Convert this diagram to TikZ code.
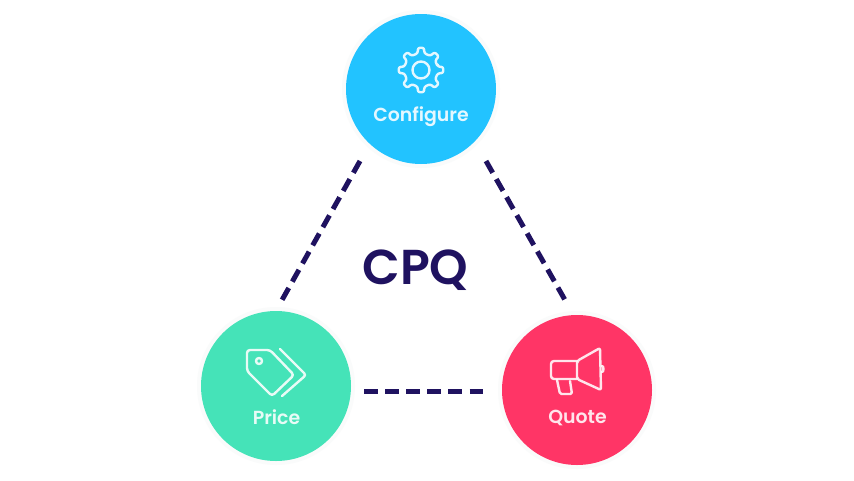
\documentclass[tikz,border=0pt]{standalone}
\usepackage{fontspec}
\setmainfont{Poppins}[BoldFont={Poppins SemiBold}]
\definecolor{cblue}{HTML}{22C3FF}
\definecolor{cgreen}{HTML}{45E3B8}
\definecolor{cpink}{HTML}{FF3566}
\definecolor{cnavy}{HTML}{1F1260}
\definecolor{halo}{HTML}{FAFBFB}
\tikzset{
  disc/.style={circle,minimum size=150pt,inner sep=0pt,fill=#1},
  glow/.style={circle,minimum size=158pt,inner sep=0pt,fill=halo},
  lbl/.style={text=white,text opacity=0.88,font=\bfseries\fontsize{18.9}{20}\selectfont,inner sep=0pt,anchor=center},
  icon/.style={draw=white,draw opacity=0.88,line width=2.4pt,line join=round,line cap=round},
  dashA/.style={draw=cnavy,line width=5pt,dash pattern=on 13.5pt off 7.3pt},
  dashB/.style={draw=cnavy,line width=5pt,dash pattern=on 13.5pt off 7.6pt},
}
\begin{document}
\begin{tikzpicture}[x=1pt,y=-1pt]
\useasboundingbox (0,0) rectangle (854,480);
\fill[white] (0,0) rectangle (854,480);
% halos
\node[glow] at (421,89) {};
\node[glow] at (276,386) {};
\node[glow] at (577,390) {};
% discs
\node[disc=cblue] (configure) at (421,89) {};
\node[disc=cgreen] (price) at (276,386) {};
\node[disc=cpink] (quote) at (577,390) {};
% connector ends
\coordinate (cl) at (360,161);
\coordinate (pt) at (282,300);
\coordinate (cr) at (486,161);
\coordinate (qt) at (565,300);
\coordinate (pr) at (364,391);
\coordinate (ql) at (483,391);
\draw[dashA] (cl) -- (pt);
\draw[dashA] (cr) -- (qt);
\draw[dashB] (pr) -- (ql);
% labels
\node[lbl] (tc) at (421,117) {Configure};
\node[lbl] (tp) at (276.5,417) {Price};
\node[lbl] (tq) at (577.5,418) {Quote};
\node[font=\bfseries\fontsize{49}{52}\selectfont,text=cnavy,inner sep=0pt] (cpq) at (415.5,270.5) {CPQ};
% gear
\draw[icon,rounded corners=2.2pt]
  ([shift={(421,70)}]-11:17) \foreach \a in {0,45,...,315} {
    -- ([shift={(421,70)}]\a-11:17)
    -- ([shift={(421,70)}]\a-8:22.5)
    -- ([shift={(421,70)}]\a+8:22.5)
    -- ([shift={(421,70)}]\a+11:17)
  } -- cycle;
\draw[icon] (421,70) circle (8.5);
% tags
\draw[icon,rounded corners=3pt] (247,350) -- (270,350) -- (294,375) -- (272,396) -- (247,371) -- cycle;
\draw[icon] (259,361) circle (3);
\draw[icon,rounded corners=2.5pt] (280,349) -- (306,375) -- (282,396);
% megaphone
\draw[icon,rounded corners=3pt] (577,361) -- (551,361) -- (551,379) -- (577,379);
\draw[icon,rounded corners=2pt] (577,361) -- (600,348) -- (601,390) -- (577,379) -- cycle;
\draw[icon,rounded corners=1.5pt] (557,380) -- (560,394) -- (572,394) -- (570,381);
\draw[icon] (602,366) arc (-90:90:1.5 and 3);
\end{tikzpicture}
\end{document}
